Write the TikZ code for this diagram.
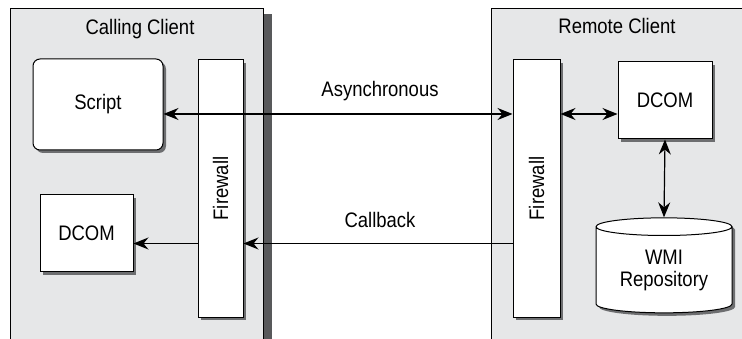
\documentclass[tikz,border=0pt]{standalone}
\usepackage{fontspec}
\setmainfont{Liberation Sans}[FakeStretch=0.88]
\usetikzlibrary{arrows.meta,shadows,shapes.geometric}
\definecolor{panelgray}{HTML}{E6E7E8}
\definecolor{paneldark}{HTML}{58595B}
\definecolor{boxshade}{HTML}{6D6E70}

\begin{document}
\begin{tikzpicture}[x=1pt, y=-1pt, line width=1pt,
  every node/.style={font=\fontsize{21}{22}\selectfont, text=black},
  tip/.tip={Stealth[length=15pt,width=12pt,inset=5pt]},
  oneway/.style={-tip, line width=1.2pt},
  twoway/.style={tip-tip, line width=1.2pt},
  box/.style={draw, fill=white, inner sep=0pt,
    drop shadow={shadow xshift=3pt, shadow yshift=-3pt, fill=boxshade, opacity=1}},
  panel/.style={draw, fill=panelgray, inner sep=0pt, line width=0.7pt, anchor=north west,
    minimum height=350pt,
    drop shadow={shadow xshift=9pt, shadow yshift=-6pt, fill=paneldark, opacity=1}}]
  \useasboundingbox (0,0) rectangle (742,339);
  % Panels
  \node[panel, minimum width=253pt] (calling) at (10,8) {};
  \node[panel, minimum width=252pt] (remote) at (491,8) {};
  \node[anchor=base] (callingtitle) at (140,34.5) {Calling Client};
  \node[anchor=base] (remotetitle) at (617,34) {Remote Client};
  % Calling client boxes
  \node[box, rounded corners=7pt, minimum width=130pt, minimum height=91pt] (script) at (98,104.5) {Script};
  \node[box, minimum width=93pt, minimum height=77pt] (ldcom) at (86.5,233.5) {DCOM};
  \node[box, minimum width=45pt, minimum height=257pt] (lfw) at (220.5,188.5) {\rotatebox{90}{Firewall}};
  % Remote client boxes
  \node[box, minimum width=47pt, minimum height=257pt] (rfw) at (536.5,188.5) {\rotatebox{90}{Firewall}};
  \node[box, minimum width=94pt, minimum height=77pt] (rdcom) at (665,100.5) {DCOM};
  \node[box, cylinder, shape border rotate=90, aspect=0.2, minimum width=136pt, minimum height=95pt,
    align=center] (repo) at (664,270) {WMI\\Repository};
  % Connectors
  \coordinate (asyncy) at (0,114);
  \coordinate (cbacky) at (0,243.5);
  \draw[twoway] (script.east |- asyncy) -- (rfw.west |- asyncy);
  \node[anchor=base] (asynclabel) at (380,97) {Asynchronous};
  \draw[twoway] (rfw.east |- asyncy) -- (rdcom.west |- asyncy);
  \draw[twoway] (rdcom.south) -- (repo.north);
  \draw[oneway] (rfw.west |- cbacky) -- (lfw.east |- cbacky);
  \node[anchor=base] (cbacklabel) at (380,228) {Callback};
  \draw[oneway] (lfw.west |- cbacky) -- (ldcom.east |- cbacky);
\end{tikzpicture}
\end{document}
